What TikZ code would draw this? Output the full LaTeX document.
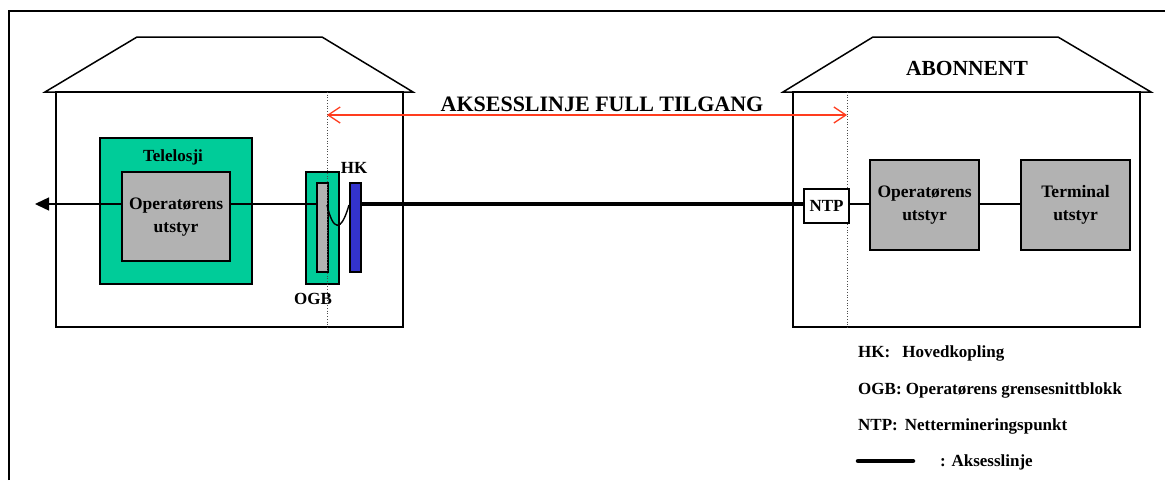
\documentclass[tikz,border=0pt]{standalone}
\usepackage{fontspec}
\setmainfont{Liberation Serif}
\usetikzlibrary{arrows.meta}
\definecolor{tgreen}{RGB}{0,204,153}
\definecolor{tgray}{RGB}{178,178,178}
\definecolor{tblue}{RGB}{51,51,204}
\definecolor{tred}{RGB}{255,60,30}
\begin{document}
\begin{tikzpicture}[x=1pt,y=-1pt,
  house/.style={draw=black,line width=2pt,fill=white},
  roof/.style={draw=black,line width=1.5pt,line join=miter},
  greenbox/.style={draw=black,line width=2.2pt,fill=tgreen},
  graybox/.style={draw=black,line width=2.2pt,fill=tgray,font=\bfseries\fontsize{17.5}{23}\selectfont,align=center},
  wire/.style={draw=black,line width=1.4pt},
  lbl/.style={font=\bfseries\fontsize{17}{20}\selectfont,inner sep=0pt},
  dotline/.style={draw=black!70,line width=0.7pt,dotted}]
\useasboundingbox (0,0) rectangle (1165,480);
% outer frame (top and left only)
\draw[line width=2.2pt] (9,480) -- (9,11) -- (1165,11);
% left house
\draw[roof] (45,92) -- (137,37) -- (322,37) -- (413,92) -- cycle;
\draw[house] (56,92) rectangle (403,327);
% right house
\draw[roof] (783,92) -- (873,37) -- (1058,37) -- (1151,92) -- cycle;
\draw[house] (793,92) rectangle (1140,327);
\node[lbl,font=\bfseries\fontsize{21.5}{24}\selectfont] (abon) at (967,68) {ABONNENT};
% dotted boundary lines
\coordinate (dl1t) at (327,92); \coordinate (dl1b) at (327,327);
\coordinate (dl2t) at (847,92); \coordinate (dl2b) at (847,327);
% Telelosji
\node[greenbox,minimum width=152pt,minimum height=146pt,anchor=north west,inner sep=0pt] (telo) at (99,137) {};
\node[lbl,anchor=center] (telolbl) at (173,157) {Telelosji};
\node[graybox,minimum width=108pt,minimum height=89pt,anchor=north west,inner sep=0pt] (op1) at (121,171) {Operatørens\\utstyr};
% OGB
\node[greenbox,minimum width=33pt,minimum height=112pt,anchor=north west,inner sep=0pt] (ogb) at (305,171) {};
\node[draw=black,line width=1.8pt,fill=tgray,minimum width=11pt,minimum height=89pt,anchor=north west,inner sep=0pt] (ogbin) at (316,182) {};
\node[lbl] (ogblbl) at (313,299) {OGB};
% HK
\node[draw=black,line width=1.8pt,fill=tblue,minimum width=11pt,minimum height=89pt,anchor=north west,inner sep=0pt] (hk) at (349,182) {};
\node[lbl] (hklbl) at (354,168) {HK};
% wires left
\coordinate (tip) at (35,204);
\draw[wire,-{Triangle[length=14pt,width=13pt]}] (op1.west |- 0,204) -- (tip);
\draw[wire] (op1.east |- 0,204) -- (ogbin.west |- 0,204);
% dotted lines
\draw[dotline] (dl1t) -- (dl1b);
\draw[dotline] (dl2t) -- (dl2b);
% curve
\draw[wire] (327,205) .. controls (333,231) and (341,233) .. (hk.west |- 0,205);
% right side
\node[draw=black,line width=2.2pt,fill=white,minimum width=45pt,minimum height=34pt,anchor=north west,inner sep=0pt,lbl] (ntp) at (803,188) {NTP};
\node[graybox,minimum width=109pt,minimum height=90pt,anchor=north west,inner sep=0pt] (op2) at (869,159) {Operatørens\\utstyr};
\node[graybox,minimum width=109pt,minimum height=90pt,anchor=north west,inner sep=0pt] (term) at (1020,159) {Terminal\\utstyr};
\draw[wire] (ntp.east |- 0,204) -- (op2.west |- 0,204);
\draw[wire] (op2.east |- 0,204) -- (term.west |- 0,204);
% access line
\draw[line width=4.5pt] (hk.east |- 0,204) -- (ntp.west |- 0,204);
% red arrow
\coordinate (ra) at (327,115); \coordinate (rb) at (847,115);
\draw[tred,line width=1.3pt,{Straight Barb[length=12pt,width=16pt]}-{Straight Barb[length=12pt,width=16pt]}] (ra) -- (rb);
\node[lbl,font=\bfseries\fontsize{22}{24}\selectfont] (title) at (602,104) {AKSESSLINJE FULL TILGANG};
% legend
\node[lbl,anchor=west] (l1) at (858,353) {HK:\hspace{12pt}Hovedkopling};
\node[lbl,anchor=west] (l2) at (858,390) {OGB: Operatørens grensesnittblokk};
\node[lbl,anchor=west] (l3) at (858,426) {NTP:\hspace{7pt}Nettermineringspunkt};
\coordinate (ls) at (858,461); \coordinate (le) at (913,461);
\draw[line width=4.5pt,line cap=round] (ls) -- (le);
\node[lbl,anchor=west] (l4) at (940,462) {: Aksesslinje};
\end{tikzpicture}
\end{document}
